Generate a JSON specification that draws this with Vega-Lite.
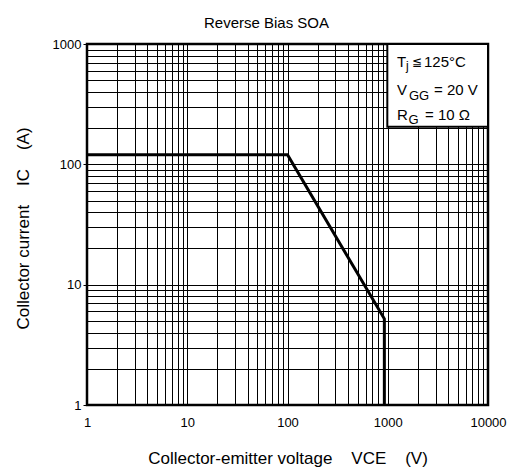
{
  "$schema": "https://vega.github.io/schema/vega-lite/v6.json",
  "width": 401,
  "height": 361,
  "autosize": {"type": "none"},
  "padding": {"left": 87, "top": 44, "right": 24, "bottom": 64},
  "background": "white",
  "config": {
    "font": "Liberation Sans",
    "view": {"stroke": "black", "strokeWidth": 2.5},
    "axis": {
      "grid": true, "gridColor": "black", "gridOpacity": 1, "gridWidth": 1,
      "domain": false, "tickColor": "black", "tickSize": 4,
      "labelFont": "Liberation Sans", "labelFontSize": 13, "labelColor": "black",
      "titleFont": "Liberation Sans", "titleFontSize": 17, "titleFontWeight": "normal", "titleColor": "black"
    },
    "text": {"font": "Liberation Sans", "fill": "black", "fontWeight": "normal", "align": "left", "baseline": "alphabetic"},
    "title": {"font": "Liberation Sans", "fontSize": 15, "fontWeight": "normal", "color": "black"}
  },
  "title": {"text": "Reverse Bias SOA", "offset": 7, "dx": -21},
  "layer": [
    {
      "data": {"values": [
        {"vce": 1, "ic": 120},
        {"vce": 100, "ic": 120},
        {"vce": 925, "ic": 5.2},
        {"vce": 925, "ic": 1}
      ]},
      "mark": {"type": "line", "color": "black", "strokeWidth": 3, "clip": true},
      "encoding": {
        "x": {"field": "vce", "type": "quantitative",
          "scale": {"type": "log", "domain": [1, 10000], "nice": false},
          "axis": {
            "values": [1,2,3,4,5,6,7,8,9,10,20,30,40,50,60,70,80,90,100,200,300,400,500,600,700,800,900,1000,2000,3000,4000,5000,6000,7000,8000,9000,10000],
            "labelExpr": "indexof([1,10,100,1000,10000], datum.value) >= 0 ? format(datum.value, 'd') : ''",
            "labelPadding": 11, "tickSize": 0, "labelFlush": false,
            "title": "Collector-emitter voltage\u00a0\u00a0\u00a0\u00a0VCE\u00a0\u00a0\u00a0\u00a0(V)",
            "titleY": 58, "titleBaseline": "alphabetic"
          }},
        "y": {"field": "ic", "type": "quantitative",
          "scale": {"type": "log", "domain": [1, 1000], "nice": false},
          "axis": {
            "values": [1,2,3,4,5,6,7,8,9,10,20,30,40,50,60,70,80,90,100,200,300,400,500,600,700,800,900,1000],
            "labelExpr": "indexof([1,10,100,1000], datum.value) >= 0 ? format(datum.value, 'd') : ''",
            "tickColor": {"condition": {"test": "indexof([1,10,100,1000], datum.value) >= 0", "value": "black"}, "value": "transparent"},
            "labelPadding": 2, "tickSize": 4, "labelFlush": false,
            "title": "Collector current\u00a0\u00a0\u00a0\u00a0IC\u00a0\u00a0\u00a0\u00a0(A)",
            "titleX": -59, "titleY": 184, "titleBaseline": "alphabetic", "titleAlign": "center"
          }}
      }
    },
    {"data": {"values": [{"x1": 990, "x2": 10000, "y1": 205, "y2": 1000}]},
     "mark": {"type": "rect", "fill": "white", "stroke": "black", "strokeWidth": 2},
     "encoding": {"x": {"field": "x1", "type": "quantitative"}, "x2": {"field": "x2"}, "y": {"field": "y1", "type": "quantitative"}, "y2": {"field": "y2"}}},
    {"data": {"values": [{"s": "T"}]}, "mark": {"type": "text", "fontSize": 15},
     "encoding": {"x": {"datum": 1237}, "y": {"datum": 648}, "text": {"field": "s"}}},
    {"data": {"values": [{"s": "j"}]}, "mark": {"type": "text", "fontSize": 12, "dx": 9, "dy": 3},
     "encoding": {"x": {"datum": 1237}, "y": {"datum": 648}, "text": {"field": "s"}}},
    {"data": {"values": [{"s": "≦"}]}, "mark": {"type": "text", "fontSize": 12, "dx": 15, "dy": -1},
     "encoding": {"x": {"datum": 1237}, "y": {"datum": 648}, "text": {"field": "s"}}},
    {"data": {"values": [{"s": "125°C"}]}, "mark": {"type": "text", "fontSize": 15, "dx": 27},
     "encoding": {"x": {"datum": 1237}, "y": {"datum": 648}, "text": {"field": "s"}}},
    {"data": {"values": [{"s": "V"}]}, "mark": {"type": "text", "fontSize": 15},
     "encoding": {"x": {"datum": 1237}, "y": {"datum": 377}, "text": {"field": "s"}}},
    {"data": {"values": [{"s": "GG"}]}, "mark": {"type": "text", "fontSize": 13, "dx": 12, "dy": 5},
     "encoding": {"x": {"datum": 1237}, "y": {"datum": 377}, "text": {"field": "s"}}},
    {"data": {"values": [{"s": "= 20 V"}]}, "mark": {"type": "text", "fontSize": 15, "dx": 37},
     "encoding": {"x": {"datum": 1237}, "y": {"datum": 377}, "text": {"field": "s"}}},
    {"data": {"values": [{"s": "R"}]}, "mark": {"type": "text", "fontSize": 15},
     "encoding": {"x": {"datum": 1237}, "y": {"datum": 234}, "text": {"field": "s"}}},
    {"data": {"values": [{"s": "G"}]}, "mark": {"type": "text", "fontSize": 13, "dx": 11.5, "dy": 4},
     "encoding": {"x": {"datum": 1237}, "y": {"datum": 234}, "text": {"field": "s"}}},
    {"data": {"values": [{"s": "= 10 Ω"}]}, "mark": {"type": "text", "fontSize": 15, "dx": 28},
     "encoding": {"x": {"datum": 1237}, "y": {"datum": 234}, "text": {"field": "s"}}}
  ]
}
